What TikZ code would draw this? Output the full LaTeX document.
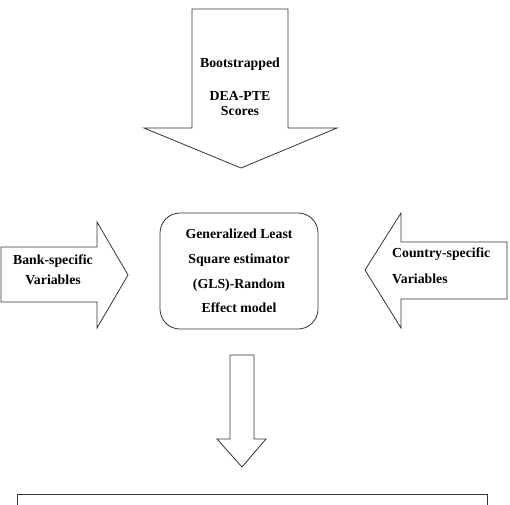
\documentclass[tikz,border=0pt]{standalone}
\usepackage{fontspec}
\setmainfont{Liberation Serif}
\begin{document}
\begin{tikzpicture}[x=1pt,y=-1pt,
  shape line/.style={draw=black!80,line width=0.8pt,fill=white,line join=miter},
  lbl/.style={font=\fontsize{13.8}{16}\selectfont\bfseries,inner sep=0pt,text=black}]
\useasboundingbox (0,0) rectangle (510,504);
% top block arrow
\draw[shape line] (192,9) -- (288,9) -- (288,128) -- (337,128) -- (241,168) -- (144,128) -- (192,128) -- cycle;
\node[lbl] (t1) at (240,64) {Bootstrapped};
\node[lbl] (t2) at (240,96) {DEA-PTE};
\node[lbl] (t3) at (240,111) {Scores};
% left block arrow
\draw[shape line] (1,247) -- (97,247) -- (97,222) -- (128,275) -- (97,328) -- (97,302) -- (1,302) -- cycle;
\node[lbl] (l1) at (53,261) {Bank-specific};
\node[lbl] (l2) at (53,280) {Variables};
% right block arrow
\draw[shape line] (507,242) -- (401,242) -- (401,213) -- (365,270) -- (401,328) -- (401,299) -- (507,299) -- cycle;
\node[lbl,anchor=west] (r1) at (392,254) {Country-specific};
\node[lbl,anchor=west] (r2) at (392,279) {Variables};
% centre box
\node[draw=black!80,line width=0.8pt,rounded corners=20pt,minimum width=158pt,minimum height=116pt,
      inner sep=0pt,align=center,font=\fontsize{13.8}{24.7}\selectfont\bfseries] (gls) at (239,271)
  {Generalized Least\\Square estimator\\(GLS)-Random\\Effect model};
% bottom block arrow
\draw[shape line] (230,355) -- (254,355) -- (254,439) -- (266,439) -- (242,467) -- (217,439) -- (230,439) -- cycle;
% bottom (cut-off) box
\coordinate (bl) at (17,506);
\coordinate (br) at (487,506);
\draw[draw=black!80,line width=0.8pt] (bl) -- (17,494) -- (487,494) -- (br);
\end{tikzpicture}
\end{document}
